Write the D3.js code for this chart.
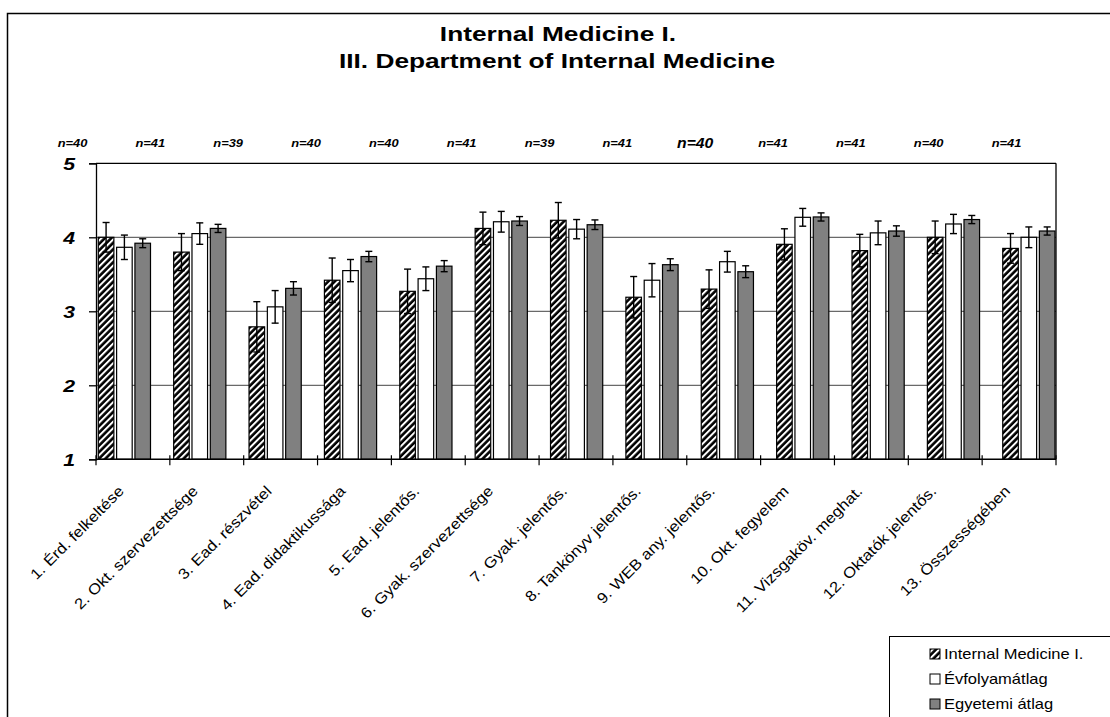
<!DOCTYPE html>
<html><head><meta charset="utf-8">
<script src="https://cdn.jsdelivr.net/npm/d3@7"></script>
<style>
html,body{margin:0;padding:0;background:#fff;}
svg{display:block;font-family:Arial,"Liberation Sans",sans-serif;}
</style></head>
<body>
<svg id="chart" width="1110" height="717"></svg>
<script>
const categories = ["1. Érd. felkeltése","2. Okt. szervezettsége","3. Ead. részvétel","4. Ead. didaktikussága","5. Ead. jelentős.","6. Gyak. szervezettsége","7. Gyak. jelentős.","8. Tankönyv jelentős.","9. WEB any. jelentős.","10. Okt. fegyelem","11. Vizsgaköv. meghat.","12. Oktatók jelentős.","13. Összességében"];
const seriesNames = ["Internal Medicine I.","Évfolyamátlag","Egyetemi átlag"];
const internalMed = [4.00,3.80,2.79,3.42,3.27,4.12,4.23,3.19,3.30,3.905,3.82,4.00,3.85];
const internalErr = [0.20,0.25,0.34,0.30,0.30,0.22,0.24,0.28,0.26,0.21,0.22,0.22,0.20];
const evfolyam = [3.865,4.05,3.06,3.55,3.44,4.21,4.11,3.42,3.67,4.27,4.06,4.18,4.00];
const evfolyamErr = [0.165,0.145,0.22,0.15,0.16,0.14,0.13,0.225,0.14,0.12,0.16,0.13,0.14];
const egyetemi = [3.92,4.12,3.31,3.74,3.61,4.22,4.17,3.63,3.535,4.275,4.085,4.24,4.085];
const egyetemiErr = [0.06,0.055,0.09,0.07,0.075,0.06,0.065,0.08,0.08,0.055,0.07,0.055,0.055];
const nLabels = ["n=40","n=41","n=39","n=40","n=40","n=41","n=39","n=41","n=40","n=41","n=41","n=40","n=41"];
const yTicks = [1,2,3,4,5];

const svg = d3.select("#chart");

// frame
svg.append("rect").attr("x",7.5).attr("y",13.5).attr("width",1120).attr("height",720)
  .attr("fill","none").attr("stroke","#000").attr("stroke-width",1.5);

// patterns
const defs = svg.append("defs");
const pat = defs.append("pattern").attr("id","hatch").attr("patternUnits","userSpaceOnUse")
  .attr("width",4.6).attr("height",4.6).attr("patternTransform","rotate(45)");
pat.append("rect").attr("width",4.6).attr("height",4.6).attr("fill","#000");
pat.append("rect").attr("x",0).attr("width",2.0).attr("height",4.6).attr("fill","#fff");

const plot = {left:96, right:1056, top:163.3, bottom:459.3};
const y = d3.scaleLinear().domain([1,5]).range([plot.bottom, plot.top]);
const xTick = d3.scaleBand().domain(categories).range([plot.left, plot.right]);
const xGroup = d3.scaleBand().domain(categories).range([98.3, 98.3 + 13*75.37]);
const xInner = d3.scaleBand().domain(seriesNames).range([0, 52.2]).paddingInner(0.15).paddingOuter(0);

// title
const title = svg.append("g").attr("font-weight","bold").attr("font-size",21).attr("text-anchor","middle");
title.append("text").attr("transform",`translate(558,41) scale(1.25,1)`).text("Internal Medicine I.");
title.append("text").attr("transform",`translate(557,68) scale(1.25,1)`).text("III. Department of Internal Medicine");

// gridlines
svg.append("g").selectAll("line").data(yTicks.filter(d=>d>1 && d<5)).join("line")
  .attr("x1",plot.left).attr("x2",plot.right).attr("y1",d=>y(d)).attr("y2",d=>y(d))
  .attr("stroke","#444").attr("stroke-width",1);

// plot border top/right
svg.append("line").attr("x1",plot.left).attr("x2",plot.right).attr("y1",y(5)).attr("y2",y(5)).attr("stroke","#000").attr("stroke-width",1.3);
svg.append("line").attr("x1",plot.right).attr("x2",plot.right).attr("y1",y(5)).attr("y2",y(1)).attr("stroke","#000").attr("stroke-width",1.3);

// bars
const series = [
  {name:seriesNames[0], vals:internalMed, errs:internalErr, fill:"url(#hatch)"},
  {name:seriesNames[1], vals:evfolyam, errs:evfolyamErr, fill:"#fff"},
  {name:seriesNames[2], vals:egyetemi, errs:egyetemiErr, fill:"#808080"}
];
const barsG = svg.append("g");
series.forEach(s=>{
  barsG.append("g").selectAll("rect").data(categories).join("rect")
    .attr("x",(c)=>xGroup(c)+xInner(s.name))
    .attr("width",xInner.bandwidth())
    .attr("y",(c,i)=>y(s.vals[i]))
    .attr("height",(c,i)=>y(1)-y(s.vals[i]))
    .attr("fill",s.fill).attr("stroke","#000").attr("stroke-width",1.2);
});
// error bars
series.forEach(s=>{
  const g = barsG.append("g").attr("stroke","#000").attr("stroke-width",1.4);
  categories.forEach((c,i)=>{
    const cx = xGroup(c)+xInner(s.name)+xInner.bandwidth()/2;
    const hi = y(s.vals[i]+s.errs[i]), lo = y(s.vals[i]-s.errs[i]);
    g.append("line").attr("x1",cx).attr("x2",cx).attr("y1",hi).attr("y2",lo);
    g.append("line").attr("x1",cx-3.5).attr("x2",cx+3.5).attr("y1",hi).attr("y2",hi);
    g.append("line").attr("x1",cx-3.5).attr("x2",cx+3.5).attr("y1",lo).attr("y2",lo);
  });
});

// y axis
const yAxis = svg.append("g").attr("transform",`translate(${plot.left},0)`)
  .call(d3.axisLeft(y).tickValues(yTicks).tickSize(7).tickFormat(d3.format("d")));
yAxis.select(".domain").attr("stroke","#000").attr("stroke-width",1.3);
yAxis.selectAll(".tick line").attr("stroke","#000").attr("stroke-width",1.3);
yAxis.selectAll(".tick text").attr("x",null).attr("dy",null)
  .attr("transform","translate(-21,6) scale(1.25,1)")
  .attr("font-size",17).attr("font-weight","bold").attr("font-style","italic").attr("fill","#000")
  .attr("font-family","Arial, 'Liberation Sans', sans-serif").attr("text-anchor","end");

// x axis line + boundary ticks
svg.append("line").attr("x1",plot.left).attr("x2",plot.right).attr("y1",y(1)).attr("y2",y(1)).attr("stroke","#000").attr("stroke-width",1.5);
const bounds = categories.map(c=>xTick(c)).concat([plot.right]);
svg.append("g").selectAll("line").data(bounds).join("line")
  .attr("x1",d=>d).attr("x2",d=>d).attr("y1",y(1)-4).attr("y2",y(1)+6)
  .attr("stroke","#000").attr("stroke-width",1.2);

// x labels
const xl = svg.append("g").attr("font-size",15).attr("text-anchor","end").attr("fill","#000");
xl.selectAll("text").data(categories).join("text")
  .attr("transform",c=>`translate(${xTick(c)+xTick.bandwidth()/2-8},492) rotate(-45)`)
  .text(c=>c)
  .each(function(){ const L=this.getComputedTextLength(); this.setAttribute("textLength",L*1.12); this.setAttribute("lengthAdjust","spacingAndGlyphs"); });

// n labels
const xN = d3.scalePoint().domain(d3.range(categories.length)).range([72.5,1006.5]);
svg.append("g").attr("font-weight","bold").attr("font-style","italic").attr("text-anchor","middle")
  .selectAll("text").data(nLabels).join("text")
  .attr("font-size",(d,i)=>i===8?15:11)
  .attr("transform",(d,i)=>`translate(${xN(i)},${i===8?148:147}) scale(${i===8?1.05:1.17},1)`)
  .text(d=>d);

// legend
const lg = svg.append("g");
lg.append("rect").attr("x",889.5).attr("y",636.5).attr("width",260).attr("height",120)
  .attr("fill","#fff").attr("stroke","#000").attr("stroke-width",1);
const legFills = ["url(#hatch)","#fff","#808080"];
seriesNames.forEach((nm,i)=>{
  const yy = 659 + i*25;
  lg.append("rect").attr("x",930).attr("y",yy-10).attr("width",10).attr("height",10)
    .attr("fill",legFills[i]).attr("stroke","#000").attr("stroke-width",1);
  lg.append("text").attr("transform",`translate(944,${yy}) scale(1.18,1)`).attr("font-size",14).text(nm);
});
</script>
</body></html>
